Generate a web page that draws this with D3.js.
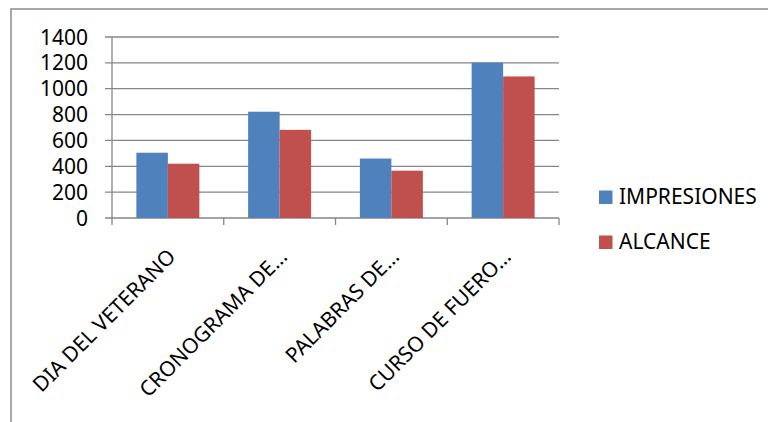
<!DOCTYPE html>
<html>
<head>
<meta charset="utf-8">
<script src="https://cdn.jsdelivr.net/npm/d3@7"></script>
<style>
  html, body { margin: 0; padding: 0; background: #fff; }
  svg { display: block; font-family: "Noto Sans", sans-serif; }
</style>
</head>
<body>
<div id="chart"></div>
<script>
const categories = ['DIA DEL VETERANO', 'CRONOGRAMA DE…', 'PALABRAS DE…', 'CURSO DE FUERO…'];
const seriesNames = ['IMPRESIONES', 'ALCANCE'];
const impresiones = [505, 822, 460, 1202];
const alcance = [420, 682, 366, 1095];
const yTicks = [0, 200, 400, 600, 800, 1000, 1200, 1400];
const colors = ['#4F81BD', '#C0504D'];

const width = 768, height = 422;
const plot = { left: 112, right: 559, top: 37, bottom: 218 };

const svg = d3.select('#chart').append('svg')
    .attr('width', width)
    .attr('height', height);

// chart frame (cropped on right and bottom)
svg.append('rect')
    .attr('x', 11).attr('y', 9)
    .attr('width', width + 10).attr('height', height + 10)
    .attr('fill', 'none')
    .attr('stroke', '#8c8c8c')
    .attr('stroke-width', 1.5);

const x0 = d3.scaleBand()
    .domain(categories)
    .range([plot.left, plot.right]);

const x1 = d3.scaleBand()
    .domain(seriesNames)
    .range([0, x0.bandwidth()])
    .paddingOuter(0.774);

const y = d3.scaleLinear()
    .domain([0, 1400])
    .range([plot.bottom, plot.top]);

// gridlines
svg.append('g')
    .selectAll('line')
    .data(yTicks)
    .join('line')
    .attr('x1', plot.left - 7)
    .attr('x2', plot.right)
    .attr('y1', d => y(d))
    .attr('y2', d => y(d))
    .attr('stroke', '#868686')
    .attr('stroke-width', 1.3);

// y labels
svg.append('g')
    .selectAll('text')
    .data(yTicks)
    .join('text')
    .attr('x', 88)
    .attr('y', d => y(d))
    .attr('dy', '0.36em')
    .attr('text-anchor', 'end')
    .style('font-size', '21px')
    .style('fill', '#000')
    .text(d => d);

// bars
const rows = categories.map((c, i) => ({ cat: c, values: [impresiones[i], alcance[i]] }));
const grp = svg.append('g')
    .selectAll('g')
    .data(rows)
    .join('g')
    .attr('transform', d => `translate(${x0(d.cat)},0)`);

grp.selectAll('rect')
    .data(d => d.values.map((v, j) => ({ name: seriesNames[j], value: v, j })))
    .join('rect')
    .attr('x', d => x1(d.name))
    .attr('width', x1.bandwidth())
    .attr('y', d => y(d.value))
    .attr('height', d => y(0) - y(d.value))
    .attr('fill', d => colors[d.j]);

// axes lines
svg.append('line')
    .attr('x1', plot.left).attr('x2', plot.left)
    .attr('y1', plot.top).attr('y2', plot.bottom)
    .attr('stroke', '#868686').attr('stroke-width', 1.3);

const xTickPos = categories.map(c => x0(c)).concat([plot.right]);
svg.append('g')
    .selectAll('line')
    .data(xTickPos)
    .join('line')
    .attr('x1', d => d).attr('x2', d => d)
    .attr('y1', plot.bottom).attr('y2', plot.bottom + 7)
    .attr('stroke', '#868686').attr('stroke-width', 1.3);

// x labels rotated
svg.append('g')
    .selectAll('text')
    .data(categories)
    .join('text')
    .attr('text-anchor', 'end')
    .attr('transform', d => `translate(${x0(d) + x0.bandwidth() / 2 + 9},${plot.bottom + 40}) rotate(-45)`)
    .style('font-size', '21px')
    .style('fill', '#000')
    .text(d => d);

// legend
const legend = svg.append('g')
    .selectAll('g')
    .data(seriesNames)
    .join('g')
    .attr('transform', (d, i) => `translate(599,${204 + i * 45})`);

legend.append('rect')
    .attr('x', 0).attr('y', -13.5)
    .attr('width', 13.5).attr('height', 13.5)
    .attr('fill', (d, i) => colors[i]);

legend.append('text')
    .attr('x', 20)
    .attr('y', 0)
    .style('font-size', '21px')
    .style('fill', '#000')
    .text(d => d);
</script>
</body>
</html>
